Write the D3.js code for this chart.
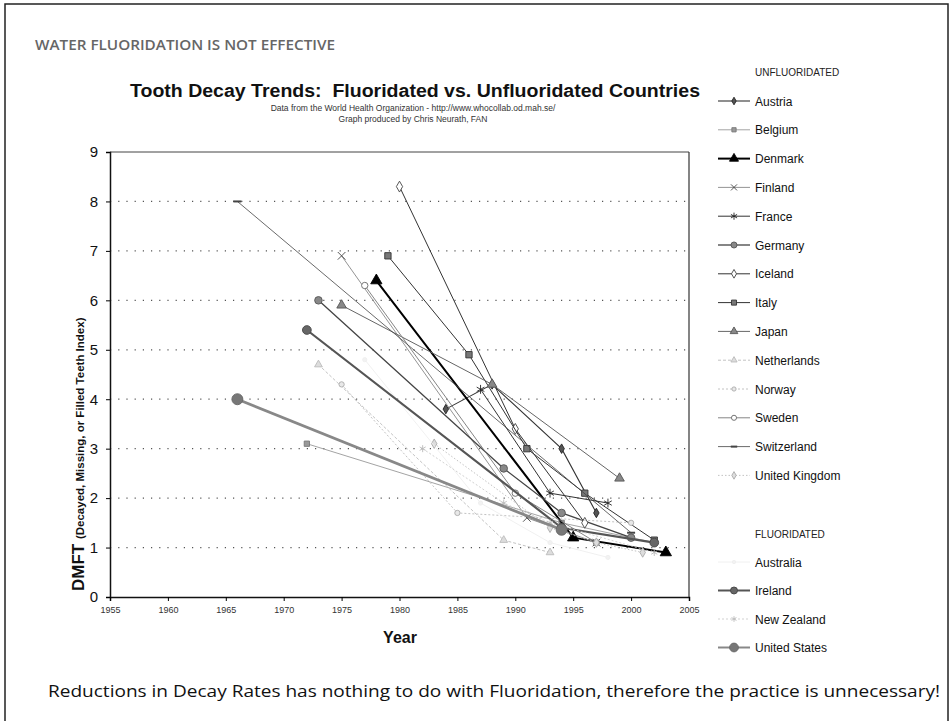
<!DOCTYPE html>
<html>
<head>
<meta charset="utf-8">
<script src="https://cdn.jsdelivr.net/npm/d3@7"></script>
<style>
  html, body { margin: 0; padding: 0; background: #fff; }
  svg { display: block; }
</style>
</head>
<body>
<svg id="chart" width="950" height="721"></svg>
<script>
// ---------------- DATA ----------------
const yTicks = [0, 1, 2, 3, 4, 5, 6, 7, 8, 9];
const xTicks = [1955, 1960, 1965, 1970, 1975, 1980, 1985, 1990, 1995, 2000, 2005];

const unfluoridated = ["Austria", "Belgium", "Denmark", "Finland", "France", "Germany", "Iceland",
  "Italy", "Japan", "Netherlands", "Norway", "Sweden", "Switzerland", "United Kingdom"];
const fluoridated = ["Australia", "Ireland", "New Zealand", "United States"];

const austria = [[1984, 3.8], [1988, 4.3], [1994, 3.0], [1997, 1.7]];
const belgium = [[1972, 3.1], [1994, 1.5], [2002, 1.1]];
const denmark = [[1978, 6.4], [1995, 1.2], [2003, 0.9]];
const finland = [[1975, 6.9], [1991, 1.6], [1997, 1.1]];
const france = [[1987, 4.2], [1993, 2.1], [1998, 1.9]];
const germany = [[1973, 6.0], [1989, 2.6], [1994, 1.7], [2000, 1.2]];
const iceland = [[1980, 8.3], [1990, 3.4], [1996, 1.5]];
const italy = [[1979, 6.9], [1986, 4.9], [1991, 3.0], [1996, 2.1], [2002, 1.15]];
const japan = [[1975, 5.9], [1988, 4.3], [1999, 2.4]];
const netherlands = [[1973, 4.7], [1989, 1.15], [1993, 0.9]];
const norway = [[1975, 4.3], [1985, 1.7], [2000, 1.5]];
const sweden = [[1977, 6.3], [1990, 2.1], [1997, 1.1]];
const switzerland = [[1966, 8.0], [2000, 1.3]];
const unitedKingdom = [[1983, 3.1], [1993, 1.4], [1997, 1.1], [2001, 0.9]];

const australia = [[1977, 4.8], [1987, 1.9], [1993, 1.1], [1998, 0.8]];
const ireland = [[1972, 5.4], [1994, 1.4], [2002, 1.1]];
const newZealand = [[1982, 3.0], [1989, 1.9], [1993, 1.5], [2002, 0.9]];
const unitedStates = [[1966, 4.0], [1994, 1.36]];

const seriesData = {
  "Austria": austria, "Belgium": belgium, "Denmark": denmark, "Finland": finland,
  "France": france, "Germany": germany, "Iceland": iceland, "Italy": italy,
  "Japan": japan, "Netherlands": netherlands, "Norway": norway, "Sweden": sweden,
  "Switzerland": switzerland, "United Kingdom": unitedKingdom,
  "Australia": australia, "Ireland": ireland, "New Zealand": newZealand, "United States": unitedStates
};

// ---------------- STYLES ----------------
const sym = {
  diamond: d3.symbolDiamond, square: d3.symbolSquare, triangle: d3.symbolTriangle,
  times: d3.symbolTimes || d3.symbolX || d3.symbolCross, asterisk: d3.symbolAsterisk || d3.symbolCross,
  circle: d3.symbolCircle, dash: null, star: d3.symbolAsterisk || d3.symbolCross
};
const styles = {
  "Austria":        {stroke: "#333", width: 1.1, dash: null, shape: "diamond", size: 26, fill: "#555", mstroke: "#222"},
  "Belgium":        {stroke: "#999", width: 0.9, dash: null, shape: "square", size: 28, fill: "#999", mstroke: "#777"},
  "Denmark":        {stroke: "#000", width: 2.0, dash: null, shape: "triangle", size: 55, fill: "#000", mstroke: "#000"},
  "Finland":        {stroke: "#888", width: 0.9, dash: null, shape: "times", size: 40, fill: "none", mstroke: "#444"},
  "France":         {stroke: "#333", width: 1.0, dash: null, shape: "asterisk", size: 55, fill: "none", mstroke: "#222"},
  "Germany":        {stroke: "#444", width: 1.3, dash: null, shape: "circle", size: 45, fill: "#888", mstroke: "#555"},
  "Iceland":        {stroke: "#333", width: 1.0, dash: null, shape: "diamond", size: 34, fill: "#fff", mstroke: "#444"},
  "Italy":          {stroke: "#333", width: 1.0, dash: null, shape: "square", size: 40, fill: "#777", mstroke: "#333"},
  "Japan":          {stroke: "#666", width: 1.0, dash: null, shape: "triangle", size: 40, fill: "#888", mstroke: "#555"},
  "Netherlands":    {stroke: "#bbb", width: 0.9, dash: "3,2", shape: "triangle", size: 26, fill: "#ddd", mstroke: "#bbb"},
  "Norway":         {stroke: "#bbb", width: 0.9, dash: "2,2", shape: "circle", size: 22, fill: "#e8e8e8", mstroke: "#aaa"},
  "Sweden":         {stroke: "#777", width: 0.9, dash: null, shape: "circle", size: 32, fill: "#fff", mstroke: "#666"},
  "Switzerland":    {stroke: "#444", width: 0.8, dash: null, shape: "dash", size: 30, fill: "#666", mstroke: "#444"},
  "United Kingdom": {stroke: "#bbb", width: 0.9, dash: "1.5,2", shape: "diamond", size: 26, fill: "#ddd", mstroke: "#aaa"},
  "Australia":      {stroke: "#eee", width: 0.9, dash: null, shape: "circle", size: 14, fill: "#f2f2f2", mstroke: "#eee"},
  "Ireland":        {stroke: "#555", width: 2.2, dash: null, shape: "circle", size: 60, fill: "#666", mstroke: "#444"},
  "New Zealand":    {stroke: "#ccc", width: 0.9, dash: "2,2", shape: "star", size: 34, fill: "none", mstroke: "#bbb"},
  "United States":  {stroke: "#888", width: 2.8, dash: null, shape: "circle", size: 95, fill: "#777", mstroke: "#666"}
};

// ---------------- DRAW ----------------
const svg = d3.select("#chart");
const font = "'Liberation Sans', Arial, sans-serif";

// outer frame
svg.append("rect").attr("x", 5).attr("y", 4).attr("width", 943).attr("height", 740)
  .attr("fill", "none").attr("stroke", "#222").attr("stroke-width", 1.5);

svg.append("text").attr("x", 35).attr("y", 50)
  .attr("font-family", "'Open Sans', 'Liberation Sans', sans-serif").attr("font-size", 14)
  .attr("font-weight", 600).attr("fill", "#666").attr("textLength", 300).attr("lengthAdjust", "spacingAndGlyphs")
  .text("WATER FLUORIDATION IS NOT EFFECTIVE");

svg.append("text").attr("x", 415).attr("y", 97).attr("text-anchor", "middle")
  .attr("font-family", font).attr("font-size", 17.5).attr("font-weight", "bold").attr("fill", "#111")
  .attr("textLength", 570).attr("lengthAdjust", "spacingAndGlyphs")
  .style("white-space", "pre")
  .text("Tooth Decay Trends:\u00a0 Fluoridated vs. Unfluoridated Countries");
svg.append("text").attr("x", 413).attr("y", 111).attr("text-anchor", "middle")
  .attr("font-family", font).attr("font-size", 8.5).attr("fill", "#333")
  .text("Data from the World Health Organization - http://www.whocollab.od.mah.se/");
svg.append("text").attr("x", 413).attr("y", 122).attr("text-anchor", "middle")
  .attr("font-family", font).attr("font-size", 8.5).attr("fill", "#333")
  .text("Graph produced by Chris Neurath, FAN");

const x = d3.scaleLinear().domain([1955, 2005]).range([110, 689]);
const y = d3.scaleLinear().domain([0, 9]).range([597, 152]);

// gridlines
svg.append("g").selectAll("line").data(yTicks.filter(t => t > 0 && t < 9)).join("line")
  .attr("x1", x(1955)).attr("x2", x(2005)).attr("y1", d => y(d)).attr("y2", d => y(d))
  .attr("stroke", "#555").attr("stroke-width", 1.2).attr("stroke-dasharray", "1.2,7");

// plot frame top & right
svg.append("line").attr("x1", x(1955)).attr("x2", x(2005)).attr("y1", y(9)).attr("y2", y(9))
  .attr("stroke", "#444").attr("stroke-width", 1);
svg.append("line").attr("x1", x(2005)).attr("x2", x(2005)).attr("y1", y(9)).attr("y2", y(0))
  .attr("stroke", "#333").attr("stroke-width", 1.2);

// axes
const yAxis = svg.append("g").attr("transform", `translate(${x(1955)},0)`)
  .call(d3.axisLeft(y).tickValues(yTicks).tickSize(4).tickPadding(8).tickFormat(d3.format("d")));
yAxis.select(".domain").attr("stroke", "#111").attr("stroke-width", 1.5);
yAxis.selectAll("text").attr("font-family", font).attr("font-size", 15).attr("fill", "#111");

const xAxis = svg.append("g").attr("transform", `translate(0,${y(0)})`)
  .call(d3.axisBottom(x).tickValues(xTicks).tickSize(4).tickPadding(6).tickFormat(d3.format("d")));
xAxis.select(".domain").attr("stroke", "#111").attr("stroke-width", 1.5);
xAxis.selectAll("text").attr("font-family", font).attr("font-size", 9).attr("fill", "#333");

svg.append("text").attr("x", 400).attr("y", 643).attr("text-anchor", "middle")
  .attr("font-family", font).attr("font-size", 16).attr("font-weight", "bold").attr("fill", "#111").text("Year");

const yt = svg.append("text").attr("transform", "translate(84,591) rotate(-90)")
  .attr("font-family", font).attr("font-weight", "bold").attr("fill", "#111");
yt.append("tspan").attr("font-size", 17).text("DMFT ");
yt.append("tspan").attr("font-size", 11.5).text("(Decayed, Missing, or Filled Teeth Index)");

// marker helper
function drawMarker(g, name, cx, cy, scale) {
  const s = styles[name];
  if (s.shape === "dash") {
    g.append("line").attr("x1", cx - 4 * scale).attr("x2", cx + 4 * scale).attr("y1", cy).attr("y2", cy)
      .attr("stroke", s.mstroke).attr("stroke-width", 2);
    return;
  }
  const path = d3.symbol().type(sym[s.shape]).size(s.size * scale * scale)();
  g.append("path").attr("d", path).attr("transform", `translate(${cx},${cy})`)
    .attr("fill", s.fill).attr("stroke", s.mstroke).attr("stroke-width", 0.9);
}

const line = d3.line().x(d => x(d[0])).y(d => y(d[1]));
const allNames = unfluoridated.concat(fluoridated);
const plot = svg.append("g");
allNames.forEach(name => {
  const s = styles[name];
  const g = plot.append("g");
  g.append("path").attr("d", line(seriesData[name])).attr("fill", "none")
    .attr("stroke", s.stroke).attr("stroke-width", s.width)
    .attr("stroke-dasharray", s.dash);
  seriesData[name].forEach(p => drawMarker(g, name, x(p[0]), y(p[1]), 1));
});

// legend
const leg = svg.append("g");
leg.append("text").attr("x", 755).attr("y", 76).attr("font-family", font).attr("font-size", 10)
  .attr("fill", "#222").text("UNFLUORIDATED");
leg.append("text").attr("x", 755).attr("y", 538).attr("font-family", font).attr("font-size", 10)
  .attr("fill", "#222").text("FLUORIDATED");

function legendItem(name, yy) {
  const s = styles[name];
  const g = leg.append("g");
  g.append("line").attr("x1", 718).attr("x2", 750).attr("y1", yy).attr("y2", yy)
    .attr("stroke", s.stroke).attr("stroke-width", Math.min(s.width, 2)).attr("stroke-dasharray", s.dash);
  drawMarker(g, name, 734, yy, 0.8);
  g.append("text").attr("x", 755).attr("y", yy + 4.5).attr("font-family", font).attr("font-size", 12)
    .attr("fill", "#111").text(name);
}
unfluoridated.forEach((n, i) => legendItem(n, 101 + i * 28.8));
fluoridated.forEach((n, i) => legendItem(n, 562 + i * 28.5));

// bottom note
svg.append("text").attr("x", 48).attr("y", 697)
  .attr("font-family", "'Open Sans', 'Liberation Sans', sans-serif").attr("font-size", 16).attr("fill", "#111")
  .attr("textLength", 892).attr("lengthAdjust", "spacingAndGlyphs")
  .text("Reductions in Decay Rates has nothing to do with Fluoridation, therefore the practice is unnecessary!");
</script>
</body>
</html>
